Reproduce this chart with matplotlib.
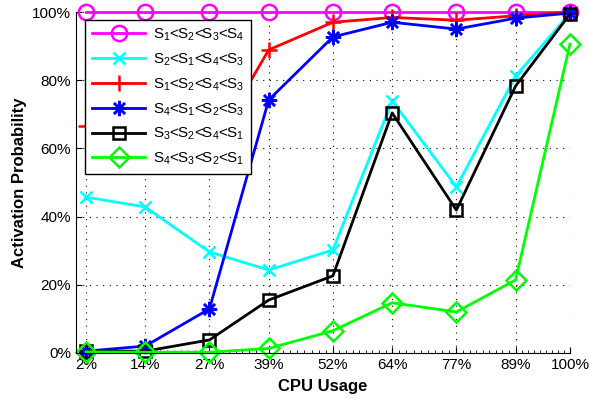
import numpy as np
import matplotlib
matplotlib.use("Agg")
import matplotlib.pyplot as plt
from matplotlib.ticker import FixedLocator, FuncFormatter

plt.rcParams['font.family'] = ['Liberation Sans', 'DejaVu Sans']
plt.rcParams['mathtext.fontset'] = 'custom'
plt.rcParams['mathtext.rm'] = 'Liberation Sans'
plt.rcParams['mathtext.it'] = 'Liberation Sans'

cpu = [2, 14, 27, 39, 52, 64, 77, 89, 100]
cpu_labels = ["2%", "14%", "27%", "39%", "52%", "64%", "77%", "89%", "100%"]

s1234 = [100, 100, 100, 100, 100, 100, 100, 100, 100]
s2143 = [45.7, 42.8, 29.6, 24.3, 30.2, 73.9, 48.7, 81.2, 99.6]
s1243 = [66.6, 63.0, 59.0, 88.9, 97.0, 98.4, 97.6, 98.9, 100]
s4123 = [0.5, 2.0, 12.9, 74.2, 92.7, 97.0, 95.0, 98.2, 99.7]
s3241 = [0.5, 0.5, 3.8, 15.5, 22.6, 70.4, 41.9, 78.3, 99.4]
s4321 = [0.3, 0.2, 0.2, 1.3, 6.5, 14.7, 12.0, 21.4, 90.6]

names = ["S$_1$<S$_2$<S$_3$<S$_4$",
         "S$_2$<S$_1$<S$_4$<S$_3$",
         "S$_1$<S$_2$<S$_4$<S$_3$",
         "S$_4$<S$_1$<S$_2$<S$_3$",
         "S$_3$<S$_2$<S$_4$<S$_1$",
         "S$_4$<S$_3$<S$_2$<S$_1$"]
series = [s1234, s2143, s1243, s4123, s3241, s4321]
colors = ["#ff00ff", "#00ffff", "#ff0000", "#0000ff", "#000000", "#00ff00"]
markers = ["o", "x", "+", (8, 2, 0), "s", "D"]
msizes = [11, 9, 12, 11, 9, 10]

fig = plt.figure(figsize=(5.9, 4.01), dpi=100)
ax = fig.add_axes([0.129, 0.12, 0.837, 0.85])

for y, c, m, ms, lab in zip(series, colors, markers, msizes, names):
    ax.plot(cpu, y, color=c, marker=m, markersize=ms, markerfacecolor="none",
            markeredgecolor=c, markeredgewidth=1.8, linewidth=2, label=lab,
            clip_on=False)

ax.set_xlim(0, 100)
ax.set_ylim(0, 100)
ax.xaxis.set_major_locator(FixedLocator(cpu))
ax.set_xticklabels(cpu_labels)
minor = []
for a, b in zip(cpu[:-1], cpu[1:]):
    minor.extend(np.linspace(a, b, 10)[1:-1])
ax.xaxis.set_minor_locator(FixedLocator(minor))
ax.set_yticks([0, 20, 40, 60, 80, 100])
ax.yaxis.set_major_formatter(FuncFormatter(lambda v, p: "%d%%" % v))
ax.tick_params(direction="in", labelsize=11, length=4, width=0.8)
ax.tick_params(which="minor", direction="in", length=2, width=0.6)
ax.grid(True, which="major", linestyle=(0, (1, 5)), color="black", linewidth=0.8)
ax.spines["top"].set_visible(False)
ax.spines["right"].set_visible(False)

ax.set_xlabel("CPU Usage", fontsize=12, fontweight="bold", labelpad=5)
ax.set_ylabel("Activation Probability", fontsize=12, fontweight="bold", labelpad=4)

leg = ax.legend(loc="upper left", bbox_to_anchor=(0.018, 0.977), fontsize=11,
                handlelength=3.5, fancybox=False, framealpha=1,
                edgecolor="black", borderpad=0.45, labelspacing=0.55,
                handletextpad=0.5, borderaxespad=0)
leg.get_frame().set_linewidth(1.0)

fig.savefig("out.png", dpi=100)
